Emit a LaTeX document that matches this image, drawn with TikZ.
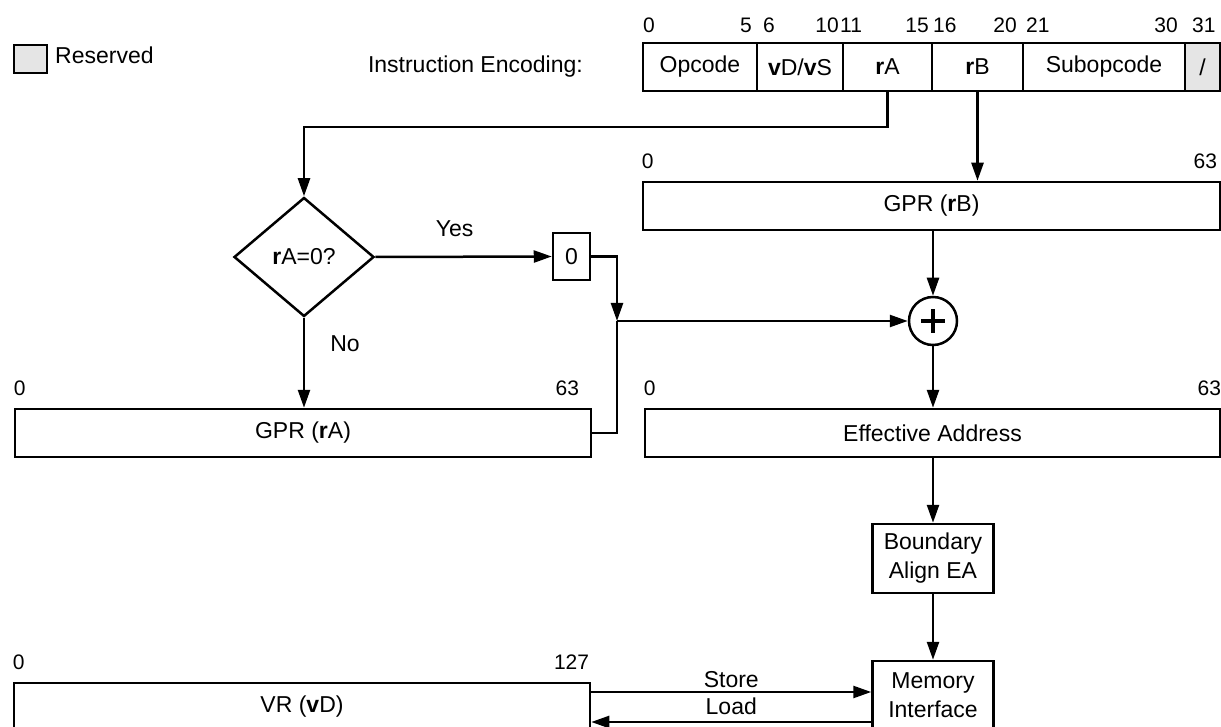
\documentclass[tikz,border=0pt]{standalone}
\usepackage{fontspec}
\setmainfont{Liberation Sans}
\usetikzlibrary{arrows.meta,shapes.geometric}

\newcommand{\txtfont}{\fontsize{23}{29}\selectfont}
\newcommand{\digfont}{\fontsize{21}{25}\selectfont}

\begin{document}
\begin{tikzpicture}[
    x=1pt, y=-1pt,
    every node/.style={text=black},
    box/.style={draw, line width=2.5pt, inner sep=0pt, font=\txtfont},
    field/.style={box, minimum height=48pt},
    reg/.style={box, minimum width=577pt, minimum height=48pt},
    unit/.style={box, align=center, minimum width=121pt, minimum height=69pt},
    txt/.style={inner sep=0pt, font=\txtfont},
    bitnum/.style={inner sep=0pt, font=\digfont},
    wire/.style={line width=2.5pt},
    arr/.style={wire, -{Triangle[length=18pt, width=12pt]}},
    adder/.style={draw, circle, line width=2.5pt, minimum size=48pt, inner sep=0pt,
        path picture={
            \draw[line width=3.2pt]
                ([xshift=-12pt]path picture bounding box.center) -- ([xshift=12pt]path picture bounding box.center)
                ([yshift=-12pt]path picture bounding box.center) -- ([yshift=12pt]path picture bounding box.center);
        }}
]
    \useasboundingbox (0,0) rectangle (1221,727);

    % ==========================
    % TOP: legend and instruction encoding
    % ==========================
    \node[box, fill=black!10, minimum width=33pt, minimum height=28pt] (resv) at (30.5,59) {};
    \node[txt, anchor=west] (resvtxt) at (55,55.5) {Reserved};

    \node[txt, anchor=east] (enc) at (583,67) {Instruction Encoding:};

    % fields: name/left/right/text
    \foreach \nm/\xa/\xb/\lab in {
        op/643/757/Opcode,
        vd/757/843/{\textbf{v}D/\textbf{v}S},
        ra/843/932/{\textbf{r}A},
        rb/932/1023/{\textbf{r}B},
        sub/1023/1185/Subopcode}
    {
        \node[field, minimum width={\xb-\xa}] (\nm) at ({(\xa+\xb)/2},67) {\lab};
    }
    \node[field, fill=black!10, minimum width=35pt] (rsv) at (1202.5,67) {/};

    % bit numbers above the fields
    \foreach \b/\xb/\side in {
        0/643/west, 5/752/east, 6/763/west, 10/839/east, 11/840/west,
        15/929/east, 16/933/west, 20/1017/east, 21/1026/west,
        30/1178/east, 31/1192/west}
    {
        \node[bitnum, anchor=base \side] (bit\b) at (\xb,33) {\b};
    }

    % ==========================
    % REGISTERS
    % ==========================
    \node[reg] (gprb) at (931.5,206) {GPR (\textbf{r}B)};
    \node[reg, minimum width=576pt] (gpra) at (303,433) {GPR (\textbf{r}A)};
    \node[reg, minimum width=575pt] (ea) at (932.5,433) {Effective Address};
    \node[reg, minimum width=576pt] (vr) at (302,707) {VR (\textbf{v}D)};

    \foreach \reg/\hi/\dx in {gprb/63/-4, gpra/63/-13, ea/63/0, vr/127/-2}
    {
        \node[bitnum, anchor=base west] (\reg lo) at ([yshift=12pt]\reg.north west) {0};
        \node[bitnum, anchor=base east] (\reg hi) at ([shift={(\dx pt,12pt)}]\reg.north east) {\hi};
    }

    % ==========================
    % ADDRESS PATH
    % ==========================
    \node[box, diamond, minimum width=140pt, minimum height=119pt] (iszero) at (304,257) {\textbf{r}A=0?};
    \node[box, minimum width=37pt, minimum height=47pt] (zero) at (571.5,256.5) {0};
    \node[adder] (plus) at (933,321) {};
    \coordinate (join) at (617,321);

    \node[unit] (align) at (933,558.5) {Boundary\\Align EA};
    \node[unit] (mem) at (933,695.5) {Memory\\Interface};

    % connectors
    \draw[arr] (ra.south) -- ++(0,35) -| (iszero.north);
    \draw[arr] (rb.south) -- (rb.south |- gprb.north);
    \draw[arr] (iszero.east) -- (zero.west) node[txt, pos=0.45, above=19pt] (yes) {Yes};
    \draw[arr] (iszero.south) -- (iszero.south |- gpra.north) node[txt, pos=0.29, right=25pt] (no) {No};
    \draw[arr] (zero.east) -| (join);
    \draw[wire] (gpra.east) -| (join);
    \draw[arr] (join) -- (plus.west);
    \draw[arr] (plus.north |- gprb.south) -- (plus.north);
    \draw[arr] (plus.south) -- (plus.south |- ea.north);
    \draw[arr] (align.north |- ea.south) -- (align.north);
    \draw[arr] (align.south) -- (mem.north);

    % store / load
    \draw[arr] ([yshift=15pt]vr.east) -- ([yshift=15pt]vr.east -| mem.west)
        node[txt, midway, above=3pt] (store) {Store};
    \draw[arr] ([yshift=-15pt]vr.east -| mem.west) -- ([yshift=-15pt]vr.east)
        node[txt, midway, above=6pt] (load) {Load};

\end{tikzpicture}
\end{document}
